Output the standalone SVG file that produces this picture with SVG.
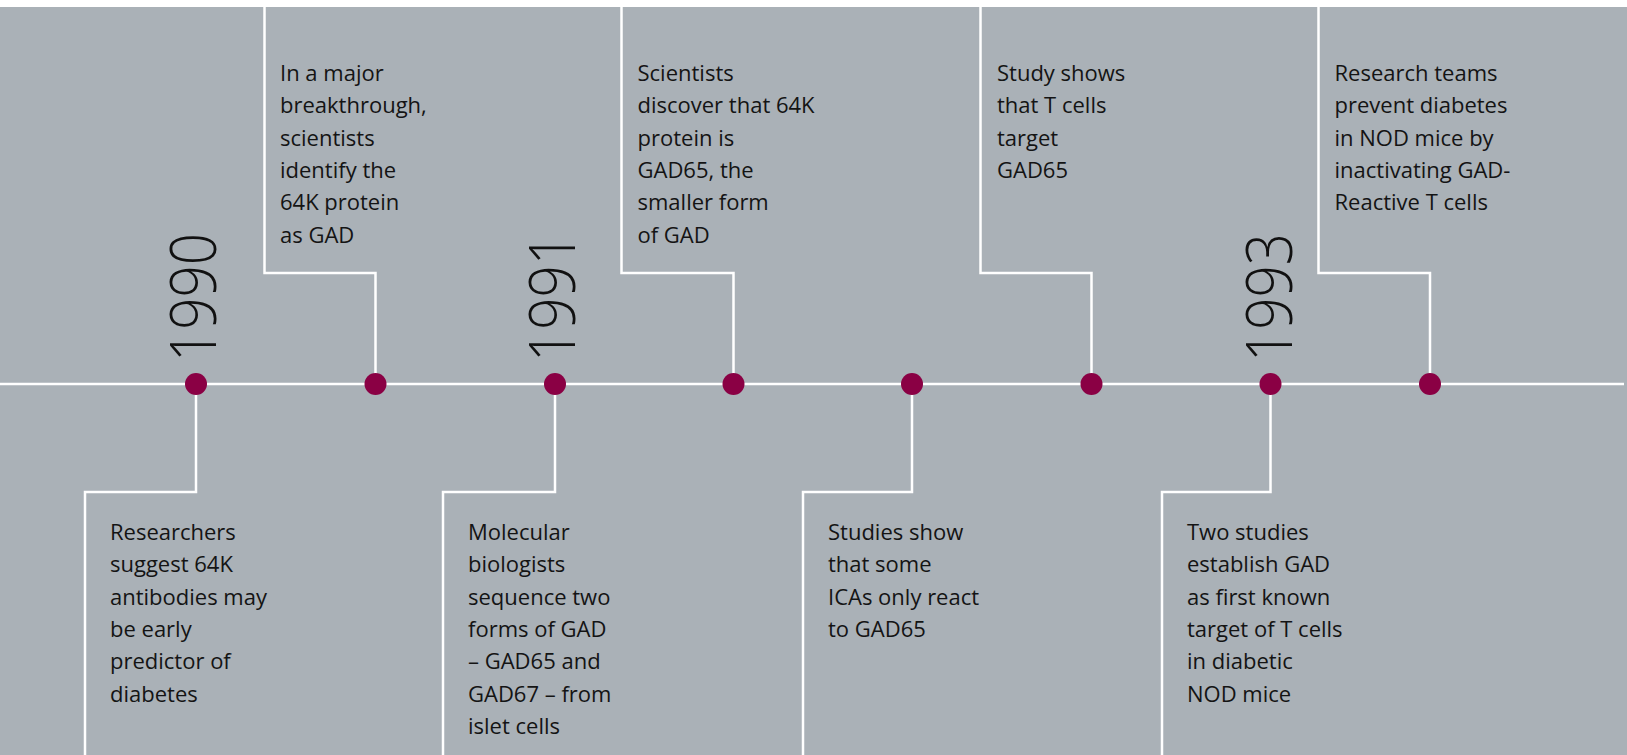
<svg xmlns="http://www.w3.org/2000/svg" width="1627" height="755" viewBox="0 0 1627 755">
<style>
.bg{fill:#aab1b7}
.ln{fill:none;stroke:#ffffff;stroke-width:2.5}
.dot{fill:#8a0044}
.t{font-family:"Open Sans","Liberation Sans",sans-serif;font-size:22px;fill:#141414}
.yr{font-family:"Open Sans",Roboto,"Liberation Sans",sans-serif;font-weight:300;font-size:64px;fill:#111}
</style>
<rect x="0" y="0" width="1627" height="755" fill="#ffffff"/>
<rect class="bg" x="0" y="7" width="1627" height="748"/>
<g id="connectors">
<line class="ln" x1="0" y1="384" x2="1624" y2="384"/>
<path class="ln" d="M375.5,384 V273 H264.5 V7"/>
<path class="ln" d="M733.5,384 V273 H621.5 V7"/>
<path class="ln" d="M1091.5,384 V273 H980.5 V7"/>
<path class="ln" d="M1430,384 V273 H1318.5 V7"/>
<path class="ln" d="M196,384 V492 H85 V755"/>
<path class="ln" d="M555,384 V492 H443 V755"/>
<path class="ln" d="M912,384 V492 H803 V755"/>
<path class="ln" d="M1270.5,384 V492 H1162 V755"/>
</g>
<g id="year1990"><text class="yr" transform="translate(216,362) rotate(-90)" textLength="129" lengthAdjust="spacingAndGlyphs">1990</text></g>
<g id="year1991"><text class="yr" transform="translate(575,362) rotate(-90)" textLength="129" lengthAdjust="spacingAndGlyphs">1991</text></g>
<g id="year1993"><text class="yr" transform="translate(1292,362) rotate(-90)" textLength="129" lengthAdjust="spacingAndGlyphs">1993</text></g>
<g id="node1">
<circle class="dot" cx="196" cy="384" r="11"/>
<text class="t" x="110" y="540">Researchers<tspan x="110" dy="32.3">suggest 64K</tspan><tspan x="110" dy="32.3">antibodies may</tspan><tspan x="110" dy="32.3">be early</tspan><tspan x="110" dy="32.3">predictor of</tspan><tspan x="110" dy="32.3">diabetes</tspan></text>
</g>
<g id="node2">
<circle class="dot" cx="375.5" cy="384" r="11"/>
<text class="t" x="280" y="81">In a major<tspan x="280" dy="32.3">breakthrough,</tspan><tspan x="280" dy="32.3">scientists</tspan><tspan x="280" dy="32.3">identify the</tspan><tspan x="280" dy="32.3">64K protein</tspan><tspan x="280" dy="32.3">as GAD</tspan></text>
</g>
<g id="node3">
<circle class="dot" cx="555" cy="384" r="11"/>
<text class="t" x="468" y="540">Molecular<tspan x="468" dy="32.3">biologists</tspan><tspan x="468" dy="32.3">sequence two</tspan><tspan x="468" dy="32.3">forms of GAD</tspan><tspan x="468" dy="32.3">– GAD65 and</tspan><tspan x="468" dy="32.3">GAD67 – from</tspan><tspan x="468" dy="32.3">islet cells</tspan></text>
</g>
<g id="node4">
<circle class="dot" cx="733.5" cy="384" r="11"/>
<text class="t" x="637.5" y="81">Scientists<tspan x="637.5" dy="32.3">discover that 64K</tspan><tspan x="637.5" dy="32.3">protein is</tspan><tspan x="637.5" dy="32.3">GAD65, the</tspan><tspan x="637.5" dy="32.3">smaller form</tspan><tspan x="637.5" dy="32.3">of GAD</tspan></text>
</g>
<g id="node5">
<circle class="dot" cx="912" cy="384" r="11"/>
<text class="t" x="828" y="540">Studies show<tspan x="828" dy="32.3">that some</tspan><tspan x="828" dy="32.3">ICAs only react</tspan><tspan x="828" dy="32.3">to GAD65</tspan></text>
</g>
<g id="node6">
<circle class="dot" cx="1091.5" cy="384" r="11"/>
<text class="t" x="997" y="81">Study shows<tspan x="997" dy="32.3">that T cells</tspan><tspan x="997" dy="32.3">target</tspan><tspan x="997" dy="32.3">GAD65</tspan></text>
</g>
<g id="node7">
<circle class="dot" cx="1270.5" cy="384" r="11"/>
<text class="t" x="1187" y="540">Two studies<tspan x="1187" dy="32.3">establish GAD</tspan><tspan x="1187" dy="32.3">as first known</tspan><tspan x="1187" dy="32.3">target of T cells</tspan><tspan x="1187" dy="32.3">in diabetic</tspan><tspan x="1187" dy="32.3">NOD mice</tspan></text>
</g>
<g id="node8">
<circle class="dot" cx="1430" cy="384" r="11"/>
<text class="t" x="1334.5" y="81">Research teams<tspan x="1334.5" dy="32.3">prevent diabetes</tspan><tspan x="1334.5" dy="32.3">in NOD mice by</tspan><tspan x="1334.5" dy="32.3">inactivating GAD-</tspan><tspan x="1334.5" dy="32.3">Reactive T cells</tspan></text>
</g>
</svg>
